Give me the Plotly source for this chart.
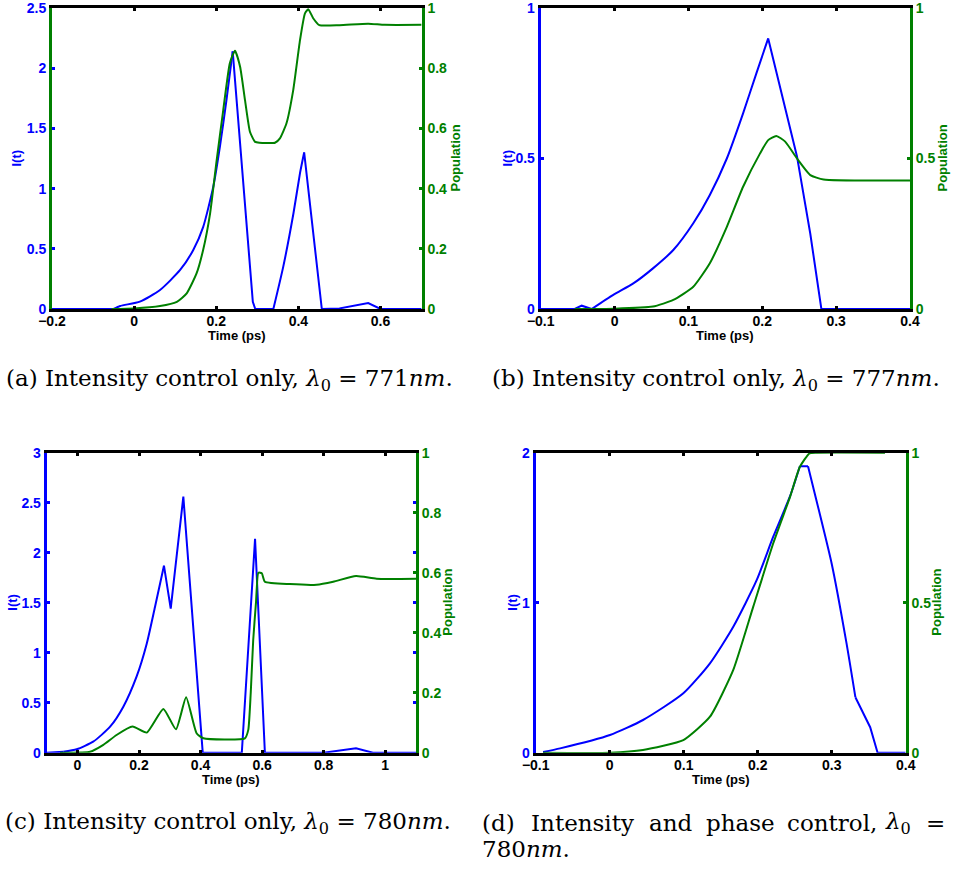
import plotly.graph_objects as go

# ---------------- data ----------------
# (a) lambda0 = 771 nm
t_a_I = [-0.2, -0.05, -0.034, 0.014, 0.063, 0.112, 0.144, 0.168, 0.193, 0.209, 0.225, 0.24,
         0.289, 0.295, 0.339, 0.363, 0.388, 0.404, 0.414, 0.4526, 0.457, 0.5, 0.57, 0.6, 0.7]
I_a = [0, 0, 0.025, 0.061, 0.158, 0.324, 0.49, 0.68, 1.02, 1.35, 1.74, 2.14,
       0.06, 0, 0, 0.35, 0.795, 1.13, 1.30, 0.10, 0, 0.005, 0.05, 0, 0]
t_a_P = [-0.055, 0.0, 0.063, 0.104, 0.128, 0.152, 0.168, 0.185, 0.201, 0.217, 0.233, 0.2456,
         0.258, 0.27, 0.282, 0.294, 0.305, 0.343, 0.355, 0.371, 0.3875, 0.404, 0.416, 0.424,
         0.436, 0.451, 0.5, 0.57, 0.61, 0.7]
P_a = [0, 0.002, 0.01, 0.024, 0.052, 0.118, 0.196, 0.318, 0.495, 0.661, 0.816, 0.858,
       0.805, 0.694, 0.589, 0.556, 0.5525, 0.5525, 0.567, 0.617, 0.728, 0.894, 0.982, 0.996,
       0.966, 0.943, 0.943, 0.948, 0.944, 0.944]

# (b) lambda0 = 777 nm
t_b_I = [-0.1, -0.054, -0.0445, -0.031, -0.0017, 0.0254, 0.052, 0.0795, 0.1066, 0.129, 0.152,
         0.174, 0.192, 0.208, 0.228, 0.247, 0.265, 0.28, 0.4]
I_b = [0, 0, 0.011, 0, 0.047, 0.085, 0.135, 0.196, 0.285, 0.379, 0.5,
       0.65, 0.783, 0.899, 0.695, 0.507, 0.25, 0, 0]
t_b_P = [-0.054, 0.0, 0.052, 0.0795, 0.1066, 0.129, 0.152, 0.174, 0.197, 0.208, 0.219, 0.231,
         0.247, 0.265, 0.283, 0.4]
P_b = [0, 0.001, 0.008, 0.03, 0.074, 0.152, 0.273, 0.406, 0.517, 0.561, 0.575, 0.556,
       0.50, 0.445, 0.43, 0.427]

# (c) lambda0 = 780 nm
t_c_I = [-0.1, -0.046, -0.0025, 0.051, 0.106, 0.149, 0.192, 0.225, 0.252, 0.281, 0.303, 0.344,
         0.407, 0.534, 0.577, 0.609, 0.8, 0.905, 0.96, 1.1]
I_c = [0, 0.01, 0.034, 0.11, 0.26, 0.46, 0.76, 1.09, 1.46, 1.87, 1.44, 2.56,
       0, 0, 2.14, 0, 0, 0.045, 0, 0]
t_c_P = [-0.057, 0.041, 0.084, 0.127, 0.179, 0.225, 0.279, 0.32, 0.353, 0.387, 0.409, 0.544,
         0.555, 0.563, 0.571, 0.58, 0.588, 0.599, 0.609, 0.69, 0.777, 0.831, 0.905, 0.972, 1.1]
P_c = [0, 0.003, 0.026, 0.059, 0.087, 0.067, 0.146, 0.078, 0.185, 0.065, 0.048, 0.048,
       0.076, 0.2, 0.375, 0.5, 0.60, 0.598, 0.57, 0.562, 0.56, 0.57, 0.589, 0.58, 0.58]

# (d) lambda0 = 780 nm, intensity and phase control
t_d_I = [-0.09, -0.067, 0.0004, 0.045, 0.0995, 0.1355, 0.167, 0.1986, 0.221, 0.2437, 0.257,
         0.268, 0.275, 0.3, 0.32, 0.332, 0.352, 0.362, 0.4]
I_d = [0.005, 0.029, 0.118, 0.218, 0.396, 0.596, 0.84, 1.15, 1.44, 1.71, 1.91,
       1.91, 1.77, 1.26, 0.73, 0.37, 0.17, 0, 0]
t_d_P = [-0.09, 0.0, 0.045, 0.0995, 0.1355, 0.167, 0.194, 0.221, 0.2437, 0.257, 0.27, 0.28, 0.372]
P_d = [0, 0, 0.009, 0.042, 0.12, 0.276, 0.487, 0.698, 0.853, 0.953, 0.998, 1, 1]

x_ranges = [[-0.2, 0.7], [-0.1, 0.4], [-0.1, 1.1], [-0.1, 0.4]]
x_ticks = [[-0.2, 0, 0.2, 0.4, 0.6], [-0.1, 0, 0.1, 0.2, 0.3, 0.4],
           [0, 0.2, 0.4, 0.6, 0.8, 1], [-0.1, 0, 0.1, 0.2, 0.3, 0.4]]
yI_ranges = [[0, 2.5], [0, 1], [0, 3], [0, 2]]
yI_ticks = [[0, 0.5, 1, 1.5, 2, 2.5], [0, 0.5, 1], [0, 0.5, 1, 1.5, 2, 2.5, 3], [0, 1, 2]]
yP_ticks = [[0, 0.2, 0.4, 0.6, 0.8, 1], [0, 0.5, 1], [0, 0.2, 0.4, 0.6, 0.8, 1], [0, 0.5, 1]]

captions = ["(a) Intensity control only, <i>λ</i><sub>0</sub> = 771<i>nm</i>.",
            "(b) Intensity control only, <i>λ</i><sub>0</sub> = 777<i>nm</i>.",
            "(c) Intensity control only, <i>λ</i><sub>0</sub> = 780<i>nm</i>."]
caption_d_words = ["(d)", "Intensity", "and", "phase", "control,", "<i>λ</i><sub>0</sub>", "="]
caption_d_line2 = "780<i>nm</i>."

# index ranges of the intensity curves that are smooth (rest drawn as straight segments)
smooth_I = [[(1, 11), (14, 18)], [(3, 13)], [(1, 9)], [(0, 10), (11, 15)]]

# ---------------- layout geometry (pixels) ----------------
W, H = 953, 873
boxes = [(52, 421.6, 8, 309), (540.7, 910, 8, 309),
         (46.7, 416, 452.7, 752.7), (535.7, 905.7, 452.7, 752.7)]

BLUE = "#0000ff"
GREEN = "#008000"
FONT = "Liberation Sans"
SERIF = "DejaVu Serif"
CAP_SIZE = 23

data_I = [(t_a_I, I_a), (t_b_I, I_b), (t_c_I, I_c), (t_d_I, I_d)]
data_P = [(t_a_P, P_a), (t_b_P, P_b), (t_c_P, P_c), (t_d_P, P_d)]


def pieces(n, smooth):
    out, cur = [], 0
    for a, b in smooth:
        if a > cur:
            out.append((cur, a, "linear"))
        out.append((a, b, "spline"))
        cur = b
    if cur < n - 1:
        out.append((cur, n - 1, "linear"))
    return out


fig = go.Figure()
layout = dict(width=W, height=H, margin=dict(l=0, r=0, t=0, b=0, autoexpand=False),
              paper_bgcolor="white", plot_bgcolor="white", showlegend=False)
annotations = []

for i in range(4):
    k = i + 1
    xl, xr, yt, yb = boxes[i]
    xname = "x" if k == 1 else f"x{k}"
    yl = 2 * i + 1
    yr = 2 * i + 2
    ylname = "y" if yl == 1 else f"y{yl}"
    yrname = f"y{yr}"
    tI, vI = data_I[i]
    tP, vP = data_P[i]
    for a, b, shape in pieces(len(tI), smooth_I[i]):
        fig.add_trace(go.Scatter(x=tI[a:b + 1], y=vI[a:b + 1], mode="lines",
                                 line=dict(color=BLUE, width=2, shape=shape, smoothing=0.6),
                                 xaxis=xname, yaxis=ylname, hoverinfo="skip"))
    fig.add_trace(go.Scatter(x=tP, y=vP, mode="lines",
                             line=dict(color=GREEN, width=2, shape="spline", smoothing=0.5),
                             xaxis=xname, yaxis=yrname, hoverinfo="skip"))
    xkey = "xaxis" if k == 1 else f"xaxis{k}"
    ylkey = "yaxis" if yl == 1 else f"yaxis{yl}"
    yrkey = f"yaxis{yr}"
    layout[xkey] = dict(domain=[xl / W, xr / W], anchor=ylname, range=x_ranges[i],
                        tickvals=x_ticks[i], showgrid=False, zeroline=False, automargin=False,
                        showline=True, linecolor="black", linewidth=3, mirror="ticks",
                        ticks="inside", ticklen=3, tickwidth=3, tickcolor="black",
                        ticklabeloverflow="allow", ticklabelstandoff=-3,
                        tickfont=dict(family=FONT, size=14, color="black", weight="bold"))
    left_col = GREEN if i == 0 else BLUE
    layout[ylkey] = dict(domain=[1 - yb / H, 1 - yt / H], anchor=xname, range=yI_ranges[i],
                         tickvals=yI_ticks[i], showgrid=False, zeroline=False, automargin=False,
                         showline=True, linecolor=left_col, linewidth=3,
                         ticks="inside", ticklen=3, tickwidth=3, tickcolor=BLUE,
                         ticklabeloverflow="allow",
                         mirror="ticks" if i == 2 else False,
                         tickfont=dict(family=FONT, size=14, color=BLUE, weight="bold"))
    layout[yrkey] = dict(overlaying=ylname, anchor=xname, side="right", range=[0, 1],
                         tickvals=yP_ticks[i], showgrid=False, zeroline=False, automargin=False,
                         showline=True, linecolor=GREEN, linewidth=3,
                         ticks="inside", ticklen=3, tickwidth=3, tickcolor=GREEN,
                         ticklabeloverflow="allow",
                         tickfont=dict(family=FONT, size=14, color=GREEN, weight="bold"))
    # axis titles
    ymid = (yt + yb) / 2
    il_x = [16, 507, 13, 513][i]
    pop_x = [455, 942, 448, 937][i]
    annotations.append(dict(x=il_x / W, y=1 - ymid / H, xref="paper", yref="paper",
                            text="<b>I(t)</b>", textangle=-90, showarrow=False,
                            xanchor="center", yanchor="middle",
                            font=dict(family=FONT, size=13, color=BLUE)))
    annotations.append(dict(x=pop_x / W, y=1 - ymid / H, xref="paper", yref="paper",
                            text="<b>Population</b>", textangle=-90, showarrow=False,
                            xanchor="center", yanchor="middle",
                            font=dict(family=FONT, size=13, color=GREEN)))
    annotations.append(dict(x=(xl + xr) / 2 / W, y=1 - (yb + 27) / H, xref="paper", yref="paper",
                            text="<b>Time (ps)</b>", showarrow=False,
                            xanchor="center", yanchor="middle",
                            font=dict(family=FONT, size=13, color="black")))

# captions
cap_pos = [(229, 380), (716, 380), (228, 823)]
for (cx, cy), txt in zip(cap_pos, captions):
    annotations.append(dict(x=cx / W, y=1 - cy / H, xref="paper", yref="paper", text=txt,
                            showarrow=False, xanchor="center", yanchor="middle",
                            font=dict(family=SERIF, size=CAP_SIZE, color="black")))
word_x = [480, 529, 647, 704, 785, 883, 924]
for wx, w in zip(word_x, caption_d_words):
    annotations.append(dict(x=wx / W, y=1 - 823 / H, xref="paper", yref="paper", text=w,
                            showarrow=False, xanchor="left", yanchor="middle",
                            font=dict(family=SERIF, size=CAP_SIZE, color="black")))
annotations.append(dict(x=480 / W, y=1 - 849 / H, xref="paper", yref="paper", text=caption_d_line2,
                        showarrow=False, xanchor="left", yanchor="middle",
                        font=dict(family=SERIF, size=CAP_SIZE, color="black")))

layout["annotations"] = annotations
fig.update_layout(**layout)
fig.write_html("out.html", config={"displayModeBar": False},
               post_script="document.body.style.margin='0px';document.body.style.overflow='hidden';")
